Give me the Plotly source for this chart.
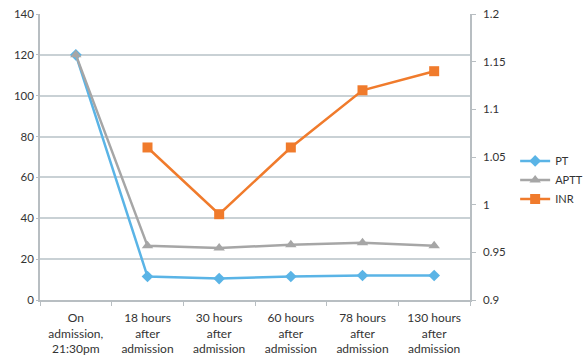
import plotly.graph_objects as go

categories = ["On<br>admission,<br>21:30pm", "18 hours<br>after<br>admission", "30 hours<br>after<br>admission",
              "60 hours<br>after<br>admission", "78 hours<br>after<br>admission", "130 hours<br>after<br>admission"]
pt = [120, 11.5, 10.5, 11.5, 12, 12]
aptt = [120, 26.5, 25.5, 27, 28, 26.5]
inr = [None, 1.06, 0.99, 1.06, 1.12, 1.14]

font = dict(family="Lato, Open Sans, sans-serif", size=11, color="#333333")

fig = go.Figure()
fig.add_trace(go.Scatter(x=categories, y=pt, name="PT", mode="lines+markers",
                         line=dict(color="#5AB4E6", width=2.5),
                         marker=dict(symbol="diamond", size=9, color="#5AB4E6")))
fig.add_trace(go.Scatter(x=categories, y=aptt, name="APTT", mode="lines+markers",
                         line=dict(color="#A6A6A6", width=2.5),
                         marker=dict(symbol="triangle-up", size=10, color="#A6A6A6")))
fig.add_trace(go.Scatter(x=categories, y=inr, name="INR", mode="lines+markers", yaxis="y2",
                         line=dict(color="#F07B2C", width=2.5),
                         marker=dict(symbol="square", size=10, color="#F07B2C")))

fig.update_layout(
    width=585, height=362,
    margin=dict(l=40, r=115, t=14, b=62, autoexpand=False),
    paper_bgcolor="white", plot_bgcolor="white",
    font=font,
    showlegend=True,
    legend=dict(x=1.105, y=0.42, xanchor="left", yanchor="middle",
                font=dict(size=11, color="#333333"), itemwidth=30, tracegroupgap=4),
    xaxis=dict(type="category", range=[-0.5, len(categories) - 0.5], showgrid=False,
               showline=True, linecolor="#B8BEC2", linewidth=1.5,
               ticks="outside", ticklen=4, tickcolor="#B8BEC2", tickson="boundaries",
               ticklabelstandoff=6, tickfont=dict(size=12, color="#333333")),
    yaxis=dict(range=[0, 140], dtick=20, showgrid=True, gridcolor="#C9D1D5", gridwidth=1.5,
               showline=True, linecolor="#B8BEC2", linewidth=1.5, ticks="outside", ticklen=2,
               tickcolor="#B8BEC2", zeroline=False, tickfont=dict(size=11.5, color="#333333")),
    yaxis2=dict(range=[0.9, 1.2], dtick=0.05, overlaying="y", side="right", showgrid=False,
                showline=True, linecolor="#B8BEC2", linewidth=1.5, ticks="outside", ticklen=4,
                tickcolor="#B8BEC2", zeroline=False, ticklabelstandoff=5,
                tickfont=dict(size=11.5, color="#333333")),
)

fig.write_html("out.html", config={"displayModeBar": False},
               post_script="document.body.style.margin='0px';")
